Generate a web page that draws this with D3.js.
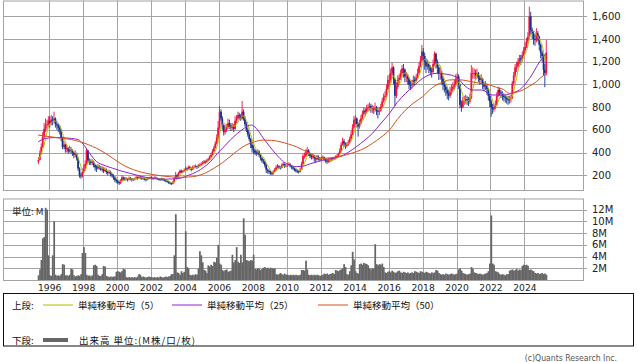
<!DOCTYPE html>
<html>
<head>
<meta charset="utf-8">
<script src="https://cdn.jsdelivr.net/npm/d3@7"></script>
<style>
  body { margin: 0; background: #fff; }
  svg { display: block; font-family: "DejaVu Sans", sans-serif; }
</style>
</head>
<body>
<svg id="chart" width="638" height="362"></svg>
<script>
// monthly candles, first bar = May 1995
const startMonth = [1995, 5];
const firstOpen = 320;

const closes = [
  335, 390, 450, 540, 610, 640, 650, 680,                         // 1995 May-Dec
  660, 690, 680, 700, 650, 640, 620, 600, 530, 450, 470, 430,     // 1996
  440, 410, 430, 420, 400, 380, 390, 350, 260, 200, 190, 230,     // 1997
  260, 300, 420, 330, 320, 310, 320, 290, 270, 260, 280, 270,     // 1998
  250, 260, 240, 250, 230, 220, 230, 210, 200, 180, 160, 150,     // 1999
  140, 130, 150, 180, 170, 165, 170, 160, 175, 170, 160, 165,     // 2000
  170, 180, 175, 185, 180, 170, 175, 165, 160, 170, 175, 180,     // 2001
  175, 170, 180, 175, 170, 165, 160, 170, 165, 155, 150, 145,     // 2002
  135, 130, 125, 140, 170, 200, 190, 220, 240, 230, 235, 245,     // 2003
  260, 255, 270, 265, 250, 270, 275, 280, 270, 285, 290, 300,     // 2004
  310, 320, 315, 330, 340, 360, 380, 410, 440, 480, 530, 620,     // 2005
  760, 700, 640, 580, 600, 620, 660, 640, 620, 630, 610, 680,     // 2006
  700, 730, 720, 700, 760, 700, 650, 600, 560, 520, 470, 440,     // 2007
  420, 400, 390, 410, 380, 350, 330, 320, 290, 250, 240, 230,     // 2008
  220, 215, 230, 250, 270, 280, 270, 265, 290, 300, 280, 290,     // 2009
  290, 300, 280, 270, 260, 250, 240, 235, 230, 250, 300, 370,     // 2010
  370, 400, 420, 390, 370, 360, 370, 350, 340, 360, 350, 340,     // 2011
  350, 360, 340, 330, 320, 335, 330, 340, 345, 350, 360, 370,     // 2012
  390, 420, 470, 500, 480, 460, 470, 490, 520, 560, 620, 690,     // 2013
  700, 650, 630, 660, 700, 740, 770, 760, 790, 800, 810, 790,     // 2014
  790, 780, 800, 770, 760, 770, 800, 850, 890, 900, 960, 1040,    // 2015
  1040, 1100, 1150, 1050, 900, 980, 1040, 1060, 1100, 1140, 1130, 1070, // 2016
  1070, 1050, 1000, 990, 1000, 1040, 1030, 1060, 1100, 1160, 1210, 1290, // 2017
  1250, 1200, 1160, 1180, 1150, 1120, 1110, 1180, 1270, 1200, 1150, 1100, // 2018
  1100, 1050, 1000, 980, 950, 920, 900, 940, 960, 980, 1000, 1050, // 2019
  1070, 1000, 820, 800, 850, 860, 870, 860, 850, 880, 1100, 1100, // 2020
  1100, 1080, 1100, 1060, 1040, 1050, 1000, 980, 990, 960, 900, 850, // 2021
  800, 780, 800, 820, 900, 950, 930, 920, 900, 890, 880, 870,     // 2022
  860, 870, 880, 1010, 1080, 1150, 1160, 1200, 1230, 1220, 1260, 1300, // 2023
  1330, 1380, 1420, 1600, 1480, 1450, 1400, 1390, 1450, 1420, 1350, 1280, // 2024
  1250, 1130, 1100, 1280                                          // 2025 Jan-Apr
];

const highs = [
  360, 420, 480, 580, 660, 700, 690, 720,
  720, 730, 720, 760, 710, 680, 660, 640, 610, 540, 500, 480,
  470, 450, 460, 450, 430, 410, 420, 400, 360, 270, 220, 260,
  290, 330, 440, 420, 350, 340, 340, 330, 300, 290, 300, 290,
  280, 280, 270, 270, 260, 240, 250, 240, 220, 210, 190, 170,
  160, 150, 165, 200, 190, 185, 185, 175, 190, 185, 175, 175,
  180, 195, 190, 200, 195, 185, 185, 180, 170, 180, 185, 190,
  190, 180, 190, 190, 180, 175, 170, 180, 175, 170, 160, 155,
  150, 140, 135, 150, 180, 230, 210, 230, 250, 250, 245, 260,
  280, 270, 285, 285, 270, 285, 290, 295, 285, 300, 305, 315,
  325, 335, 330, 345, 355, 375, 400, 430, 460, 500, 560, 680,
  810, 780, 720, 650, 640, 650, 700, 690, 660, 660, 650, 720,
  730, 760, 750, 740, 855, 780, 720, 670, 620, 580, 530, 490,
  460, 430, 420, 430, 420, 390, 360, 345, 330, 300, 260, 250,
  240, 230, 245, 265, 290, 300, 290, 280, 305, 315, 305, 300,
  305, 315, 305, 290, 280, 270, 260, 250, 245, 265, 320, 390,
  400, 430, 452, 430, 400, 385, 390, 380, 360, 380, 375, 360,
  365, 375, 365, 350, 340, 350, 345, 355, 360, 365, 375, 385,
  400, 440, 490, 530, 520, 490, 490, 510, 540, 590, 650, 720,
  730, 710, 670, 690, 730, 770, 800, 790, 820, 830, 840, 830,
  820, 810, 840, 810, 790, 800, 830, 880, 920, 940, 1000, 1080,
  1090, 1140, 1190, 1160, 1060, 1020, 1080, 1090, 1130, 1170, 1180, 1140,
  1110, 1090, 1060, 1030, 1040, 1080, 1070, 1090, 1140, 1190, 1250, 1348,
  1320, 1280, 1230, 1220, 1200, 1170, 1150, 1220, 1290, 1280, 1220, 1170,
  1150, 1120, 1070, 1030, 1000, 980, 950, 980, 1000, 1020, 1040, 1090,
  1100, 1090, 1010, 860, 890, 900, 910, 900, 890, 920, 1170, 1150,
  1140, 1130, 1140, 1110, 1080, 1090, 1060, 1020, 1030, 1010, 970, 920,
  870, 830, 830, 860, 930, 980, 970, 950, 940, 920, 910, 900,
  900, 900, 910, 1030, 1110, 1180, 1200, 1230, 1260, 1260, 1290, 1330,
  1370, 1410, 1460, 1685, 1640, 1500, 1470, 1440, 1495, 1470, 1430, 1360,
  1300, 1270, 1180, 1390
];

const lows = [
  300, 330, 380, 440, 520, 580, 600, 630,
  620, 640, 640, 660, 620, 600, 580, 560, 500, 430, 430, 400,
  400, 390, 400, 390, 370, 350, 360, 330, 240, 180, 170, 180,
  220, 250, 290, 310, 290, 290, 290, 270, 240, 230, 250, 250,
  240, 230, 220, 230, 210, 200, 210, 190, 180, 160, 140, 130,
  125, 115, 125, 145, 155, 150, 155, 145, 155, 155, 145, 150,
  155, 165, 160, 170, 165, 160, 160, 155, 145, 155, 165, 170,
  165, 160, 165, 165, 160, 155, 150, 155, 150, 145, 140, 135,
  125, 120, 115, 120, 135, 165, 180, 185, 215, 220, 220, 230,
  240, 240, 250, 250, 235, 245, 260, 265, 255, 265, 275, 285,
  295, 300, 300, 310, 325, 335, 360, 375, 405, 435, 470, 520,
  610, 680, 600, 550, 560, 580, 610, 610, 590, 600, 580, 600,
  660, 690, 690, 680, 690, 680, 630, 580, 540, 500, 440, 400,
  390, 380, 370, 380, 360, 330, 310, 300, 270, 220, 215, 210,
  205, 200, 205, 225, 245, 260, 255, 250, 260, 280, 265, 270,
  275, 280, 270, 255, 245, 235, 225, 220, 215, 225, 245, 295,
  345, 360, 380, 370, 350, 340, 345, 320, 310, 330, 330, 320,
  330, 340, 325, 310, 300, 310, 315, 320, 330, 335, 340, 350,
  360, 385, 410, 460, 450, 430, 445, 460, 480, 510, 550, 610,
  650, 620, 540, 610, 650, 690, 730, 720, 740, 760, 770, 750,
  750, 740, 760, 730, 700, 730, 760, 790, 840, 860, 890, 950,
  980, 1010, 1080, 1000, 810, 880, 960, 1000, 1040, 1080, 1060, 1020,
  1020, 1000, 960, 950, 960, 990, 990, 1020, 1050, 1090, 1150, 1200,
  1200, 1130, 1100, 1130, 1100, 1080, 1060, 1100, 1160, 1140, 1090, 1040,
  1040, 1000, 950, 930, 900, 870, 860, 880, 910, 930, 950, 990,
  1010, 960, 790, 760, 790, 820, 830, 820, 810, 830, 870, 1050,
  1050, 1040, 1050, 1020, 1000, 1010, 960, 940, 950, 910, 860, 800,
  716, 740, 760, 780, 810, 890, 900, 880, 860, 850, 840, 830,
  820, 830, 840, 870, 990, 1060, 1110, 1140, 1180, 1170, 1200, 1250,
  1280, 1320, 1360, 1400, 1440, 1400, 1350, 1340, 1370, 1380, 1300, 1230,
  1200, 1080, 975, 1080
];

// monthly volume, millions
const volumes = [
  0.8, 1.8, 3.4, 7.1, 7.3, 12.3, 12.0, 4.2,
  0.8, 0.7, 4.2, 10.0, 0.9, 0.7, 0.8, 0.7, 1.0, 2.7, 2.6, 0.8,
  0.8, 0.7, 0.9, 1.9, 1.8, 0.8, 0.6, 0.7, 0.8, 0.7, 1.0, 4.6,
  5.6, 4.6, 0.9, 0.7, 0.8, 0.6, 0.8, 2.5, 2.6, 2.4, 0.9, 0.7,
  0.7, 1.0, 2.4, 2.3, 0.7, 0.6, 0.5, 0.6, 0.5, 0.6, 0.6, 1.4,
  1.5, 1.4, 1.3, 1.5, 1.9, 1.8, 0.5, 0.4, 0.5, 0.4, 0.5, 0.4,
  0.5, 0.4, 0.6, 1.0, 0.9, 0.5, 0.6, 0.5, 0.4, 0.5, 0.6, 0.5,
  0.5, 0.4, 0.5, 0.4, 0.5, 0.4, 0.6, 0.5, 0.4, 0.5, 0.6, 0.5,
  0.6, 0.7, 1.0, 1.0, 4.2, 11.2, 1.3, 1.2, 0.9, 1.5, 1.2, 1.4,
  8.3, 2.2, 2.0, 0.9, 0.8, 0.9, 0.8, 1.0, 0.9, 2.0, 4.9, 4.2,
  3.0, 1.7, 1.6, 1.2, 2.5, 2.3, 2.6, 2.4, 3.1, 3.0, 3.8, 6.0,
  2.8, 2.6, 1.7, 1.5, 1.7, 1.8, 1.4, 1.5, 1.6, 4.3, 3.0, 3.4,
  5.6, 3.1, 2.9, 4.3, 3.0, 10.5, 7.7, 3.4, 3.3, 3.2, 3.4, 3.3,
  4.3, 1.9, 1.8, 2.0, 1.9, 1.7, 1.9, 2.1, 2.2, 2.0, 2.1, 1.9,
  2.1, 2.0, 1.9, 2.0, 1.0, 0.9, 1.0, 1.2, 1.0, 0.9, 1.1, 0.9,
  0.9, 0.8, 0.9, 0.8, 0.9, 0.8, 0.9, 0.8, 0.8, 0.9, 1.7, 1.7,
  1.6, 3.3, 1.8, 0.9, 0.8, 0.9, 0.8, 0.9, 0.8, 0.9, 0.8, 0.7,
  0.8, 0.9, 1.1, 1.0, 1.1, 0.9, 1.0, 1.1, 1.2, 1.0, 1.7, 1.6,
  1.5, 1.7, 1.8, 2.0, 2.7, 2.2, 1.0, 0.9, 1.5, 2.5, 4.8, 3.5,
  1.5, 1.2, 1.1, 2.7, 2.8, 2.6, 2.9, 2.8, 2.7, 2.5, 2.0, 1.8,
  2.0, 1.9, 6.1, 2.7, 2.5, 2.7, 2.6, 2.8, 2.2, 1.3, 1.2, 1.4,
  1.5, 1.3, 1.6, 1.4, 1.2, 1.3, 1.5, 1.6, 1.3, 1.2, 1.4, 1.3,
  1.2, 1.3, 1.1, 1.2, 1.3, 1.2, 1.5, 1.4, 1.3, 1.2, 1.5, 1.4,
  1.3, 1.2, 1.4, 1.3, 1.2, 1.1, 1.3, 1.2, 1.3, 1.7, 1.6, 1.2,
  1.0, 0.9, 1.0, 0.9, 1.1, 1.0, 0.9, 1.0, 1.1, 1.0, 0.9, 1.0,
  1.1, 1.8, 2.0, 1.6, 1.2, 1.1, 1.0, 0.9, 1.0, 1.1, 2.2, 1.9,
  1.3, 1.2, 1.1, 1.0, 1.1, 1.0, 0.9, 1.0, 1.1, 1.2, 1.5, 2.8,
  11.0, 2.8, 2.6, 1.5, 1.4, 1.3, 1.0, 0.9, 1.0, 0.9, 0.8, 1.0,
  1.0, 1.6, 1.7, 1.8, 1.6, 1.7, 1.9, 1.6, 1.8, 1.7, 2.4, 2.6,
  2.5, 2.6, 2.4, 1.7, 1.8, 1.6, 1.5, 1.2, 1.1, 1.2, 1.0, 1.1,
  1.2, 1.0, 1.1, 0.9
];

// moving averages: [decimal year, value]
const ma25Points = [
  [1995.35, 495], [1995.8, 525], [1996.3, 532], [1996.8, 530], [1997.3, 525], [1997.7, 515],
  [1998.0, 475], [1998.4, 390], [1998.8, 320], [1999.3, 285], [1999.75, 262], [2000.25, 238],
  [2000.75, 218], [2001.25, 198], [2001.7, 182], [2002.2, 172], [2002.7, 165], [2003.2, 168],
  [2003.7, 174], [2004.2, 200], [2004.7, 232], [2005.1, 270], [2005.5, 320], [2005.9, 390],
  [2006.3, 452], [2006.7, 515], [2007.1, 570], [2007.5, 615], [2007.9, 643], [2008.2, 614],
  [2008.6, 530], [2009.0, 452], [2009.4, 380], [2009.8, 320], [2010.2, 290], [2010.55, 276],
  [2011.0, 282], [2011.35, 300], [2011.8, 320], [2012.3, 340], [2012.7, 350], [2013.1, 364],
  [2013.6, 400], [2014.1, 452], [2014.6, 510], [2015.05, 570], [2015.5, 650], [2016.05, 746],
  [2016.5, 840], [2017.0, 922], [2017.5, 990], [2018.0, 1053], [2018.4, 1085], [2018.8, 1098],
  [2019.4, 1090], [2020.0, 1063], [2020.55, 980], [2020.95, 951], [2021.5, 951], [2022.1, 907],
  [2022.8, 907], [2023.3, 925], [2023.7, 951], [2024.3, 1053], [2024.9, 1200], [2025.2, 1260],
  [2025.3, 1275]
];

const ma50Points = [
  [1995.35, 554], [1996.05, 540], [1996.8, 525], [1997.3, 515], [1997.8, 496], [1998.3, 470],
  [1998.8, 437], [1999.3, 395], [1999.75, 350], [2000.25, 300], [2000.75, 262], [2001.2, 238],
  [2001.7, 218], [2002.2, 204], [2002.7, 194], [2003.2, 186], [2003.7, 182], [2004.2, 185],
  [2004.7, 194], [2005.2, 220], [2005.7, 262], [2006.2, 310], [2006.65, 364], [2007.1, 418],
  [2007.6, 467], [2008.1, 495], [2008.6, 510], [2009.1, 508], [2009.6, 496], [2010.1, 475],
  [2010.55, 452], [2011.0, 420], [2011.35, 394], [2011.7, 370], [2012.1, 350], [2012.6, 355],
  [2013.1, 364], [2013.6, 385], [2014.1, 408], [2014.6, 440], [2015.05, 482], [2015.55, 535],
  [2016.05, 599], [2016.5, 690], [2017.0, 775], [2017.5, 840], [2018.0, 892], [2018.4, 950],
  [2018.8, 995], [2019.2, 1020], [2019.55, 1039], [2020.0, 1042], [2020.35, 1039], [2020.75, 1028],
  [2021.15, 1016], [2021.55, 1005], [2021.95, 995], [2022.35, 975], [2022.75, 957], [2023.1, 922],
  [2023.5, 930], [2023.9, 951], [2024.3, 985], [2024.7, 1024], [2025.0, 1065], [2025.3, 1092]
];

const yearTicks = [1996, 1998, 2000, 2002, 2004, 2006, 2008, 2010, 2012, 2014, 2016, 2018, 2020, 2022, 2024];
const priceTicks = [200, 400, 600, 800, 1000, 1200, 1400, 1600];
const volumeTicks = [2, 4, 6, 8, 10, 12];
const maLabels = ["単純移動平均（5）", "単純移動平均（25）", "単純移動平均（50）"];
const volumeLabel = "出来高 単位:(M株/口/枚)";

// --- drawing ---
const svg = d3.select("#chart");
const gridColor = "#a4a4a4";
const upColor = "#f0103c", downColor = "#14308f";
const maColors = ["#b4c000", "#9422cc", "#d4501e"];

const yd = y => new Date(Date.UTC(1970, 0, 1) + (y - 1970) * 365.2425 * 864e5);

const x = d3.scaleUtc().domain([yd(1993.28), yd(2027.45)]).range([3, 583]);
const yP = d3.scaleLinear().domain([70.6, 1734.7]).range([190, 1]);
const yV = d3.scaleLinear().domain([0, 13.8]).range([280, 199]);

const n = closes.length;
const months = d3.range(n).map(i => new Date(Date.UTC(startMonth[0], startMonth[1] - 1 + i, 15)));
const opens = closes.map((c, i) => i ? closes[i - 1] : firstOpen);
const ma5 = closes.map((c, i) => d3.mean(closes.slice(Math.max(0, i - 4), i + 1)));
const step = x(months[1]) - x(months[0]);

// panels: grid
function grid(g, y0, y1, yScale, ticks) {
  g.append("g").selectAll("line").data(yearTicks).join("line")
    .attr("x1", d => Math.round(x(yd(d))) + 0.5).attr("x2", d => Math.round(x(yd(d))) + 0.5)
    .attr("y1", y0).attr("y2", y1)
    .attr("stroke", gridColor);
  g.append("g").selectAll("line").data(ticks).join("line")
    .attr("x1", 3).attr("x2", 587)
    .attr("y1", d => Math.round(yScale(d)) + 0.5).attr("y2", d => Math.round(yScale(d)) + 0.5)
    .attr("stroke", gridColor);
  g.append("rect").attr("x", 3.5).attr("y", y0 + 0.5)
    .attr("width", 580).attr("height", y1 - y0)
    .attr("fill", "none").attr("stroke", gridColor);
}

const topPanel = svg.append("g");
grid(topPanel, 0.5, 190, yP, priceTicks);
const volPanel = svg.append("g");
grid(volPanel, 198.5, 280, yV, volumeTicks);

// price labels
topPanel.append("g").selectAll("text").data(priceTicks).join("text")
  .attr("x", 592).attr("y", d => yP(d) + 3.6)
  .attr("font-size", 10).attr("fill", "#222")
  .text(d => d3.format(",")(d));

// volume labels
volPanel.append("g").selectAll("text").data(volumeTicks).join("text")
  .attr("x", 592).attr("y", d => yV(d) + 3.6)
  .attr("font-size", 10).attr("fill", "#222")
  .text(d => d + "M");

// year labels
svg.append("g").selectAll("text").data(yearTicks).join("text")
  .attr("x", d => x(yd(d)) + 0.5).attr("y", 291)
  .attr("text-anchor", "middle").attr("font-size", 9.2).attr("fill", "#222")
  .text(d => d);

// candles
const candles = topPanel.append("g").selectAll("g").data(d3.range(n)).join("g")
  .attr("stroke", i => closes[i] >= opens[i] ? upColor : downColor)
  .attr("fill", i => closes[i] >= opens[i] ? upColor : downColor);
candles.append("line")
  .attr("x1", i => x(months[i])).attr("x2", i => x(months[i]))
  .attr("y1", i => yP(highs[i])).attr("y2", i => yP(lows[i]))
  .attr("stroke-width", 0.9);
candles.append("rect")
  .attr("x", i => x(months[i]) - step * 0.6)
  .attr("width", step * 1.2)
  .attr("y", i => yP(Math.max(opens[i], closes[i])))
  .attr("height", i => Math.max(0.8, Math.abs(yP(opens[i]) - yP(closes[i]))))
  .attr("stroke", "none");

// moving averages
const maLine = d3.line().curve(d3.curveMonotoneX);
topPanel.append("path")
  .attr("d", maLine(ma5.map((v, i) => [x(months[i]), yP(v)])))
  .attr("fill", "none").attr("stroke", maColors[0]).attr("stroke-width", 1);
topPanel.append("path")
  .attr("d", maLine(ma25Points.map(d => [x(yd(d[0])), yP(d[1])])))
  .attr("fill", "none").attr("stroke", maColors[1]).attr("stroke-width", 1);
topPanel.append("path")
  .attr("d", maLine(ma50Points.map(d => [x(yd(d[0])), yP(d[1])])))
  .attr("fill", "none").attr("stroke", maColors[2]).attr("stroke-width", 1);

// volume bars
volPanel.append("g").selectAll("rect").data(volumes).join("rect")
  .attr("x", (d, i) => x(months[i]) - step / 2)
  .attr("width", step + 0.3)
  .attr("y", d => yV(d))
  .attr("height", d => 280 - yV(d))
  .attr("fill", "#666");

const cjk = '"Noto Sans CJK JP", sans-serif';
volPanel.append("text")
  .attr("x", 12).attr("y", 214.5)
  .attr("font-family", cjk).attr("font-size", 9.5).attr("fill", "#222")
  .text("単位: M");

// legend
const legend = svg.append("g").attr("font-family", cjk).attr("font-size", 9.5).attr("fill", "#111");
legend.append("rect").attr("x", 3.5).attr("y", 293.5).attr("width", 630).attr("height", 52.5)
  .attr("fill", "none").attr("stroke", "#111");
legend.append("text").attr("x", 12).attr("y", 308.5).text("上段:");
legend.append("text").attr("x", 12).attr("y", 343.5).text("下段:");
const legendX = [43, 172, 318];
maLabels.forEach((label, i) => {
  legend.append("line")
    .attr("x1", legendX[i]).attr("x2", legendX[i] + 30)
    .attr("y1", 305).attr("y2", 305)
    .attr("stroke", maColors[i]).attr("stroke-width", 1);
  legend.append("text").attr("x", legendX[i] + 35).attr("y", 308.5).text(label);
});
legend.append("line").attr("x1", 43).attr("x2", 68).attr("y1", 340).attr("y2", 340)
  .attr("stroke", "#666").attr("stroke-width", 4);
legend.append("text").attr("x", 79).attr("y", 343.5)
  .attr("textLength", 116).attr("lengthAdjust", "spacing")
  .text(volumeLabel);

svg.append("text")
  .attr("x", 617).attr("y", 360.5).attr("text-anchor", "end")
  .attr("font-family", '"DejaVu Sans Condensed", "DejaVu Sans", sans-serif')
  .attr("font-size", 8.6).attr("fill", "#555")
  .text("(c)Quants Research Inc.");
</script>
</body>
</html>
